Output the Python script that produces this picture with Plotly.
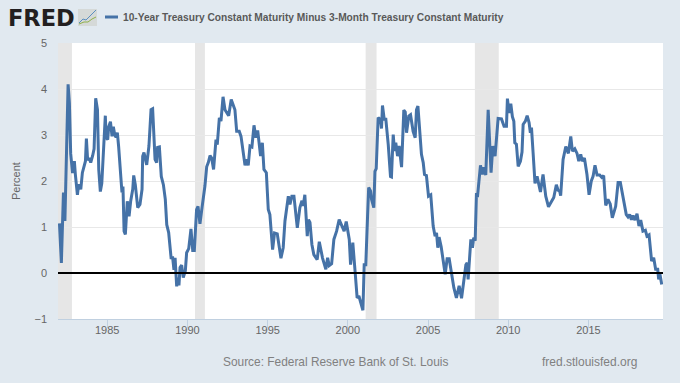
import plotly.graph_objects as go

years = [1982.02,1982.14,1982.27,1982.36,1982.56,1982.64,1982.72,1982.83,1982.89,1982.95,1983.01,1983.14,1983.22,1983.35,1983.45,1983.58,1983.64,1983.70,1983.78,1983.87,1983.97,
1984.09,1984.18,1984.28,1984.39,1984.47,1984.57,1984.66,1984.76,1984.88,1984.93,1985.03,1985.09,1985.20,1985.30,1985.38,1985.47,1985.55,1985.63,1985.71,1985.88,1985.92,1985.98,
1986.05,1986.13,1986.25,1986.36,1986.46,1986.59,1986.65,1986.75,1986.90,1987.04,1987.17,1987.21,1987.29,1987.46,1987.60,1987.73,1987.83,1987.98,1988.08,1988.14,1988.25,1988.37,1988.50,1988.62,1988.71,1988.83,1988.98,
1989.08,1989.16,1989.23,1989.33,1989.41,1989.47,1989.54,1989.64,1989.74,1989.87,1989.95,1990.08,1990.22,1990.33,1990.43,1990.57,1990.66,1990.78,1990.91,1991.09,1991.20,1991.30,1991.41,1991.51,1991.63,1991.78,1991.86,1991.99,
1992.09,1992.22,1992.34,1992.57,1992.73,1992.96,1993.07,1993.23,1993.34,1993.44,1993.59,1993.69,1993.79,1993.90,1994.02,1994.15,1994.27,1994.38,1994.56,1994.67,1994.77,1994.92,1995.04,1995.14,1995.31,1995.43,1995.60,1995.83,1995.97,
1996.08,1996.29,1996.39,1996.51,1996.64,1996.85,1997.01,1997.14,1997.22,1997.32,1997.47,1997.55,1997.64,1997.76,1997.88,1998.09,1998.22,1998.42,1998.63,1998.74,1998.84,1998.99,1999.13,1999.30,1999.46,1999.61,1999.77,1999.90,
2000.09,2000.17,2000.31,2000.46,2000.58,2000.69,2000.81,2000.94,2001.02,2001.12,2001.23,2001.30,2001.42,2001.48,2001.62,2001.69,2001.77,2001.89,2002.04,2002.10,2002.16,2002.27,2002.37,2002.52,2002.66,2002.72,2002.83,2002.91,2002.99,
2003.10,2003.20,2003.35,2003.49,2003.58,2003.66,2003.80,2003.91,2004.07,2004.20,2004.28,2004.37,2004.49,2004.59,2004.70,2004.78,2004.90,2005.03,2005.17,2005.32,2005.44,2005.53,2005.61,2005.69,2005.82,
2006.07,2006.19,2006.32,2006.44,2006.61,2006.77,2006.94,2007.09,2007.25,2007.36,2007.44,2007.50,2007.67,2007.77,2007.85,2007.94,2008.02,2008.08,2008.27,2008.39,2008.48,2008.60,2008.75,2008.85,2008.93,
2009.04,2009.18,2009.37,2009.58,2009.74,2009.89,2009.95,2010.05,2010.16,2010.26,2010.35,2010.41,2010.51,2010.62,2010.76,2010.86,2010.93,2011.07,2011.18,2011.30,2011.38,2011.45,2011.55,2011.67,2011.80,
2012.01,2012.17,2012.34,2012.51,2012.69,2012.84,2013.00,2013.11,2013.21,2013.27,2013.42,2013.59,2013.75,2013.90,2014.00,2014.15,2014.29,2014.40,2014.52,2014.62,2014.75,2014.91,2015.04,2015.18,2015.29,2015.41,2015.54,2015.70,2015.83,2015.95,
2016.08,2016.22,2016.36,2016.49,2016.70,2016.80,2016.85,2016.99,2017.16,2017.36,2017.47,2017.57,2017.68,2017.78,2017.90,2018.03,2018.15,2018.26,2018.40,2018.55,2018.65,2018.78,2018.94,2019.07,2019.19,2019.32,2019.38,2019.46,2019.57]

spread = [1.08,.22,1.75,1.13,4.1,3.7,2.6,2.2,2.2,2.43,2.15,1.7,1.93,1.82,2.18,2.35,2.43,2.92,2.45,2.5,2.4,
2.55,2.7,3.8,3.55,2.25,1.77,1.95,2.69,3.42,2.94,2.9,3.18,3.29,2.97,3.18,3.0,2.95,3.05,2.75,1.93,1.75,1.88,
.91,.84,1.56,1.23,1.56,1.82,2.12,1.92,1.42,1.49,1.82,2.54,2.62,2.35,2.76,3.55,3.57,2.47,2.4,2.73,2.74,2.1,1.92,1.6,1.05,.88,.33,
.33,.07,.33,-.29,-.1,-.27,.12,.17,-.1,.05,.44,.53,.96,.49,.49,1.38,1.45,1.07,1.42,1.89,2.31,2.4,2.55,2.5,2.25,2.9,2.79,3.37,
3.3,3.83,3.55,3.42,3.77,3.55,3.08,3.08,2.97,2.72,2.34,2.47,2.34,2.76,2.74,3.21,2.94,3.1,2.54,2.83,2.25,2.18,1.38,1.27,.51,.87,.85,.32,.55,
1.13,1.67,1.49,1.67,1.67,.98,1.42,1.57,1.46,1.7,.8,1.16,1.1,.62,.4,.29,.68,.33,.08,.33,.16,.2,.73,.91,1.16,1.05,.91,1.12,
.73,.18,.66,0,-.54,-.5,-.68,-.81,.18,.18,1.23,1.86,1.78,1.6,1.42,2.21,2.27,3.38,3.33,3.14,3.64,3.34,3.34,2.79,2.1,2.09,3.01,2.65,2.83,
2.54,2.76,2.3,3.54,3.5,3.05,3.41,3.44,3.08,2.94,3.55,3.63,3.12,2.58,2.4,2.14,2.12,1.67,1.7,1.02,.8,.87,.55,.78,.57,
-.03,.31,.31,.05,-.32,-.54,-.28,-.55,-.1,.18,.22,-.14,.73,.55,.77,.7,1.74,1.65,2.34,2.14,2.3,2.13,3.55,2.83,2.18,
2.76,2.54,3.36,3.35,3.19,3.19,3.79,3.48,3.68,3.4,3.3,2.83,2.8,2.32,2.43,2.63,3.23,3.3,3.42,3.27,3.05,3.16,2.62,1.95,2.1,
1.76,2.14,1.67,1.44,1.56,1.64,1.92,1.8,1.78,1.68,2.47,2.75,2.6,2.97,2.65,2.7,2.6,2.43,2.58,2.43,2.5,2.14,1.7,2.0,2.1,2.34,2.13,2.13,2.08,2.12,
1.47,1.6,1.5,1.2,1.45,1.82,1.97,1.97,1.65,1.27,1.22,1.27,1.16,1.25,1.15,1.29,1.02,1.15,.91,.93,.8,.83,.26,.33,.08,.08,-.14,-.03,-.25]

recession_start = [1981.93, 1990.47, 2001.11, 2007.92]
recession_end = [1982.80, 1991.09, 2001.79, 2009.41]
x_ticks = [1985, 1990, 1995, 2000, 2005, 2010, 2015]
y_ticks = [-1, 0, 1, 2, 3, 4, 5]
series_name = "10-Year Treasury Constant Maturity Minus 3-Month Treasury Constant Maturity"

W, H = 680, 383
L, R, T, B = 58, 17, 43, 64
def px(x): return (x - L) / (W - L - R)
def py(y): return (H - B - y) / (H - T - B)

fig = go.Figure()
fig.add_trace(go.Scatter(x=years, y=spread, mode="lines", name=series_name,
                         line=dict(color="#4572a7", width=3), hoverinfo="skip", showlegend=False))

shapes = []
for a, b in zip(recession_start, recession_end):
    shapes.append(dict(type="rect", xref="x", yref="y", x0=a, x1=b, y0=-1, y1=5,
                       fillcolor="#e6e6e6", line_width=0, layer="below"))
shapes.append(dict(type="line", xref="paper", yref="y", x0=0, x1=1, y0=0, y1=0,
                   line=dict(color="#000000", width=2)))
# legend swatch
shapes.append(dict(type="line", xref="paper", yref="paper", x0=px(105), x1=px(118), y0=py(17), y1=py(17),
                   line=dict(color="#4572a7", width=3)))
# logo badge
shapes.append(dict(type="rect", xref="paper", yref="paper", x0=px(78), x1=px(97), y0=py(26), y1=py(9),
                   fillcolor="#d5d9d8", line_width=0))
shapes.append(dict(type="path", xref="paper", yref="paper",
                   path=f"M {px(79)} {py(23)} L {px(83)} {py(19)} L {px(86)} {py(20)} L {px(91)} {py(15)} L {px(96)} {py(10)}",
                   line=dict(color="#5b8fc0", width=1)))
shapes.append(dict(type="path", xref="paper", yref="paper",
                   path=f"M {px(79)} {py(24)} L {px(84)} {py(22)} L {px(88)} {py(22)} L {px(92)} {py(19)} L {px(96)} {py(17)}",
                   line=dict(color="#8fb04a", width=1)))

annotations = [
    dict(text="FRED", xref="paper", yref="paper", x=px(6), y=py(18), xanchor="left", yanchor="middle",
         showarrow=False, font=dict(family="DejaVu Sans", size=22.5, color="#231f20", weight="bold")),
    dict(text=series_name, xref="paper", yref="paper", x=px(121), y=py(17), xanchor="left", yanchor="middle",
         showarrow=False, font=dict(family="Liberation Sans", size=10.2, color="#595959", weight="bold")),
    dict(text="Source: Federal Reserve Bank of St. Louis", xref="paper", yref="paper", x=px(221), y=py(362),
         xanchor="left", yanchor="middle", showarrow=False,
         font=dict(family="Liberation Sans", size=11.9, color="#808080")),
    dict(text="fred.stlouisfed.org", xref="paper", yref="paper", x=px(639), y=py(362),
         xanchor="right", yanchor="middle", showarrow=False,
         font=dict(family="Liberation Sans", size=12, color="#808080")),
    dict(text="Percent", xref="paper", yref="paper", x=px(16), y=py(181), xanchor="center", yanchor="middle",
         textangle=-90, showarrow=False, font=dict(family="Liberation Sans", size=11, color="#666666")),
]

fig.update_layout(
    width=W, height=H, autosize=False,
    paper_bgcolor="#e1e9f0", plot_bgcolor="#ffffff",
    margin=dict(l=L, r=R, t=T, b=B, pad=0),
    shapes=shapes, annotations=annotations, showlegend=False,
    xaxis=dict(range=[1981.93, 2019.65], tickvals=x_ticks, ticks="outside", ticklen=8, tickwidth=1,
               tickcolor="#c0d0e0", showgrid=False, showline=True, linecolor="#c0d0e0", linewidth=1,
               zeroline=False, ticklabelstandoff=-7,
               tickfont=dict(family="Liberation Sans", size=11, color="#666666")),
    yaxis=dict(range=[-1, 5], tickvals=y_ticks, ticks="", showgrid=True, gridcolor="#e8e8e8", gridwidth=1,
               zeroline=False, showline=False, ticklabelstandoff=10,
               tickfont=dict(family="Liberation Sans", size=11, color="#666666")),
)

fig.write_html("out.html", config=dict(displayModeBar=False),
               post_script="document.body.style.margin='0';document.documentElement.style.overflow='hidden';")
